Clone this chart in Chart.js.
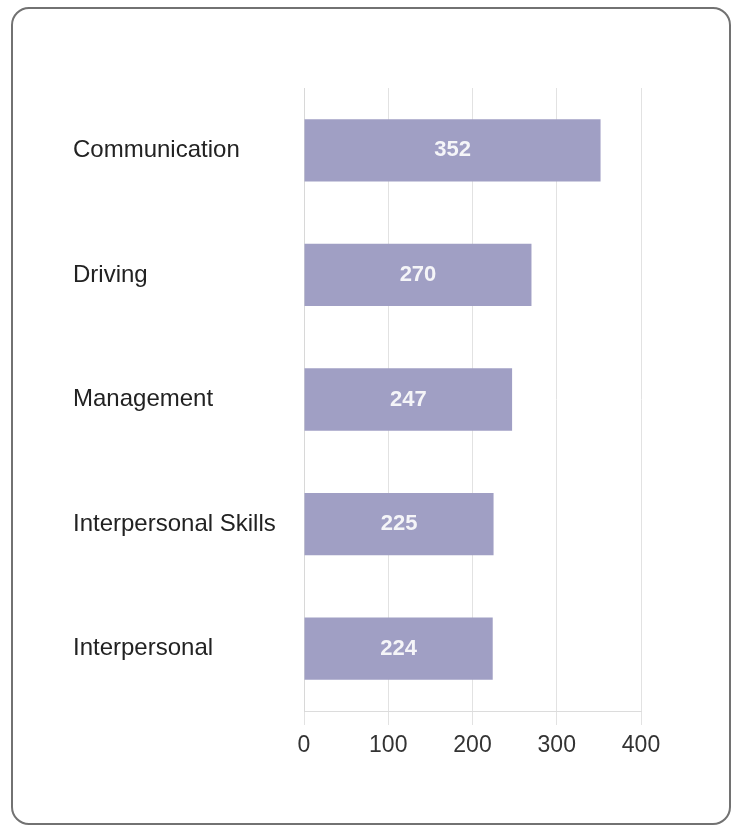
<!DOCTYPE html>
<html>
<head>
<meta charset="utf-8">
<script src="https://cdn.jsdelivr.net/npm/chart.js@4"></script>
<style>
  html, body { margin: 0; padding: 0; background: #fff; }
  body { width: 737px; height: 825px; position: relative; overflow: hidden; }
  .card {
    position: absolute; left: 11px; top: 7px; width: 716px; height: 814px;
    border: 2px solid #727272; border-radius: 18px; box-sizing: content-box;
  }
  #barChart { position: absolute; left: 0; top: 0; }
</style>
</head>
<body>
<div class="card"></div>
<canvas id="barChart" width="737" height="825"></canvas>
<script>
const categories = ['Communication', 'Driving', 'Management', 'Interpersonal Skills', 'Interpersonal'];
const skillCounts = [352, 270, 247, 225, 224];
const tickValues = [0, 100, 200, 300, 400];

// draws the value in the middle of each bar
const barValueLabels = {
    id: 'barValueLabels',
    afterDatasetsDraw(chart) {
        const ctx = chart.ctx;
        const meta = chart.getDatasetMeta(0);
        ctx.save();
        ctx.font = 'bold 22px Arial, "Liberation Sans", sans-serif';
        ctx.fillStyle = '#f5f5f8';
        ctx.textAlign = 'center';
        ctx.textBaseline = 'middle';
        meta.data.forEach((bar, i) => {
            const p = bar.getProps(['x', 'y', 'base'], true);
            ctx.fillText(skillCounts[i], (p.x + p.base) / 2, p.y);
        });
        ctx.restore();
    }
};

const ctx = document.getElementById('barChart').getContext('2d');
new Chart(ctx, {
    type: 'bar',
    data: {
        labels: categories,
        datasets: [{
            data: skillCounts,
            backgroundColor: '#a09fc4',
            borderWidth: 0,
            barPercentage: 0.5,
            categoryPercentage: 1
        }]
    },
    options: {
        indexAxis: 'y',
        responsive: false,
        animation: false,
        layout: { padding: { left: 73, top: 88, right: 96, bottom: 54 } },
        plugins: {
            legend: { display: false },
            tooltip: { enabled: false }
        },
        scales: {
            x: {
                min: 0,
                max: 400,
                afterBuildTicks(scale) {
                    scale.ticks = tickValues.map(v => ({ value: v }));
                },
                afterFit(scale) { scale.height = 60; },
                grid: { color: '#e2e2e2', lineWidth: 1, tickLength: 14 },
                border: { color: '#dcdcdc', width: 1 },
                ticks: {
                    color: '#333',
                    padding: 7,
                    font: { family: 'Arial, "Liberation Sans", sans-serif', size: 23 }
                }
            },
            y: {
                afterFit(scale) { scale.width = 231; },
                grid: { display: false },
                border: { color: '#d8d8d8', width: 1 },
                ticks: {
                    crossAlign: 'far',
                    color: '#222',
                    font: { family: 'Arial, "Liberation Sans", sans-serif', size: 24 }
                }
            }
        }
    },
    plugins: [barValueLabels]
});
</script>
</body>
</html>
